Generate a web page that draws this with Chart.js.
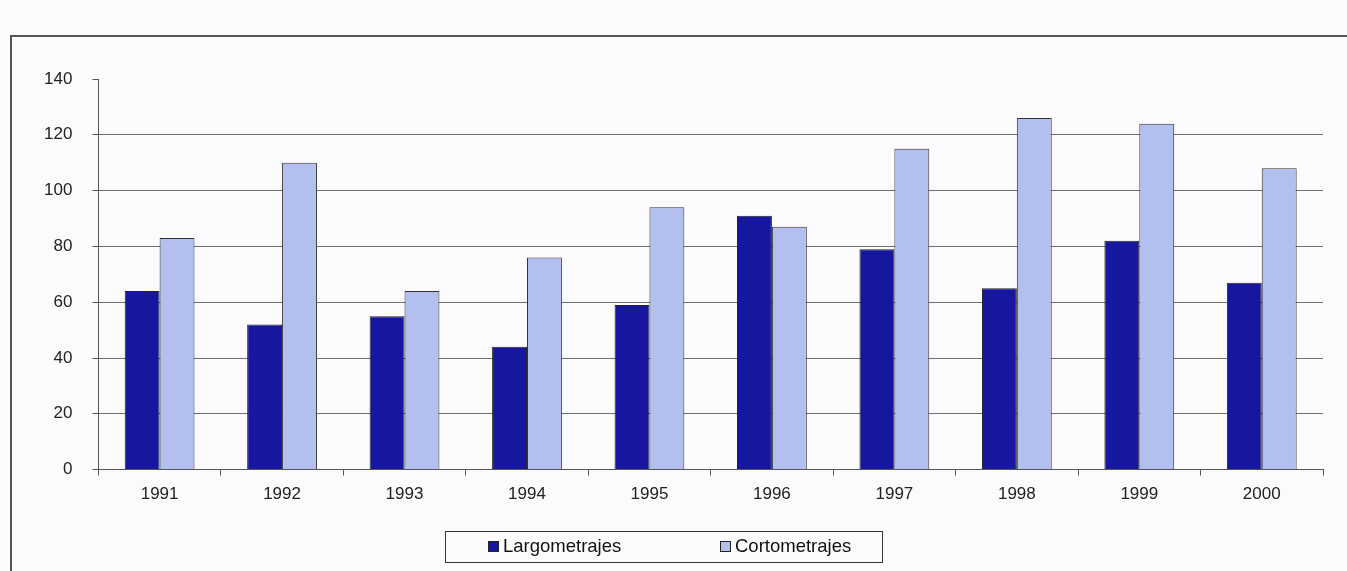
<!DOCTYPE html>
<html lang="es">
<head>
    <meta charset="UTF-8">
    <title>Largometrajes y cortometrajes 1991-2000</title>
    <script src="https://cdn.jsdelivr.net/npm/chart.js"></script>
    <style>
        html, body { margin: 0; padding: 0; background: #fbfbfd; overflow: hidden; }
        #frame {
            position: absolute; left: 10px; top: 35px; right: 0; bottom: 0;
            border-left: 2px solid #555; border-top: 2px solid #555;
        }
        #chart { position: absolute; left: 0; top: 0; }
    </style>
</head>
<body>
    <div id="frame"></div>
    <canvas id="chart" width="1347" height="571"></canvas>

    <script>
        // años
        const years = ['1991', '1992', '1993', '1994', '1995', '1996', '1997', '1998', '1999', '2000'];
        // valores
        const largometrajes = [64, 52, 55, 44, 59, 91, 79, 65, 82, 67];
        const cortometrajes = [83, 110, 64, 76, 94, 87, 115, 126, 124, 108];
        const yTicks = [0, 20, 40, 60, 80, 100, 120, 140];

        const font = 'Arial, "Liberation Sans", sans-serif';

        // leyenda con caja, como en Excel
        const boxLegend = {
            id: 'boxLegend',
            afterDraw(chart) {
                const ctx = chart.ctx;
                const x0 = 445, y0 = 531, w = 437, h = 31;
                ctx.save();
                ctx.strokeStyle = '#333';
                ctx.lineWidth = 1;
                ctx.strokeRect(x0 + 0.5, y0 + 0.5, w, h);
                ctx.font = '18.5px ' + font;
                ctx.textBaseline = 'middle';
                const itemX = [488, 720];
                chart.data.datasets.forEach((ds, i) => {
                    ctx.fillStyle = ds.backgroundColor;
                    ctx.fillRect(itemX[i], y0 + 10, 11, 11);
                    ctx.strokeStyle = '#222';
                    ctx.strokeRect(itemX[i] + 0.5, y0 + 10.5, 10, 10);
                    ctx.fillStyle = '#111';
                    ctx.fillText(ds.label, itemX[i] + 15, y0 + 16);
                });
                ctx.restore();
            }
        };

        const ctx = document.getElementById('chart').getContext('2d');
        new Chart(ctx, {
            type: 'bar',
            data: {
                labels: years,
                datasets: [{
                    label: 'Largometrajes',
                    data: largometrajes,
                    backgroundColor: '#16169e',
                    borderColor: '#222',
                    borderWidth: 1
                }, {
                    label: 'Cortometrajes',
                    data: cortometrajes,
                    backgroundColor: '#b3c0ef',
                    borderColor: '#333',
                    borderWidth: 1
                }]
            },
            options: {
                responsive: false,
                animation: false,
                devicePixelRatio: 1,
                layout: { padding: { left: 24, right: 24, top: 79, bottom: 57 } },
                datasets: {
                    bar: { categoryPercentage: 0.57, barPercentage: 1.0 }
                },
                plugins: {
                    legend: { display: false },
                    tooltip: { enabled: false }
                },
                scales: {
                    x: {
                        grid: {
                            offset: true,
                            drawOnChartArea: false,
                            drawTicks: true,
                            tickLength: 6,
                            tickColor: '#555'
                        },
                        border: { color: '#555', width: 1 },
                        ticks: { color: '#222', font: { family: font, size: 17 }, padding: 9 }
                    },
                    y: {
                        min: 0,
                        max: 140,
                        afterBuildTicks(axis) { axis.ticks = yTicks.map(v => ({ value: v })); },
                        grid: {
                            color: c => (c.tick && c.tick.value === 140) ? 'rgba(0,0,0,0)' : '#6e6e6e',
                            tickColor: '#555',
                            tickLength: 6,
                            lineWidth: 1
                        },
                        border: { color: '#555', width: 1 },
                        ticks: { color: '#222', font: { family: font, size: 17 }, padding: 20 }
                    }
                }
            },
            plugins: [boxLegend]
        });
    </script>
</body>
</html>
